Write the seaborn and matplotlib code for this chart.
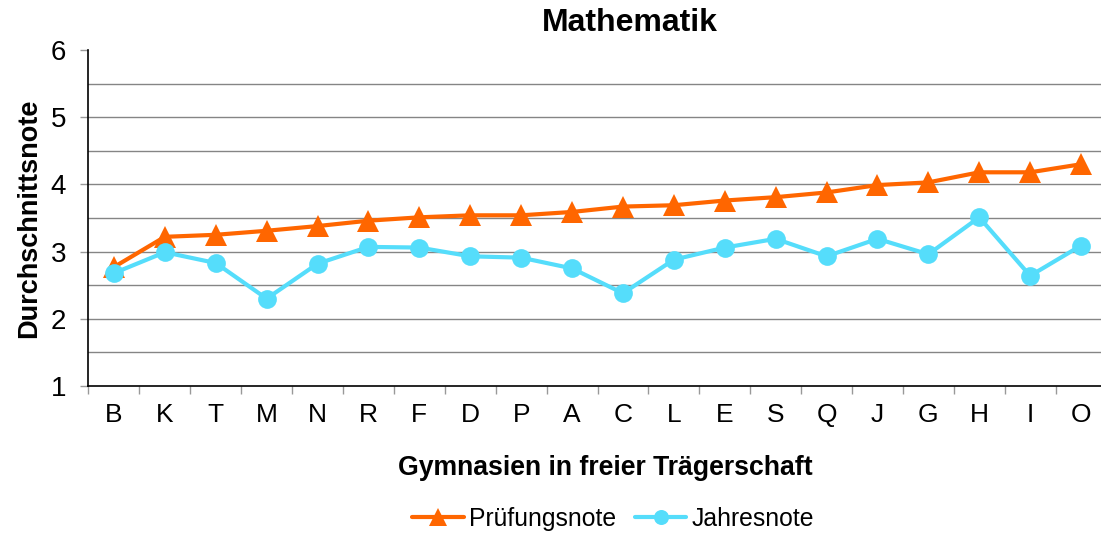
import pandas as pd
import matplotlib.pyplot as plt
import seaborn as sns

# Daten
schulen = ['B', 'K', 'T', 'M', 'N', 'R', 'F', 'D', 'P', 'A',
           'C', 'L', 'E', 'S', 'Q', 'J', 'G', 'H', 'I', 'O']
pruefungsnote = [2.77, 3.22, 3.25, 3.31, 3.38, 3.46, 3.51, 3.54, 3.54, 3.59,
                 3.67, 3.69, 3.76, 3.81, 3.88, 3.99, 4.03, 4.18, 4.18, 4.30]
jahresnote = [2.68, 2.99, 2.83, 2.30, 2.82, 3.07, 3.06, 2.93, 2.91, 2.75,
              2.38, 2.88, 3.06, 3.19, 2.93, 3.19, 2.96, 3.51, 2.64, 3.09]
serien = ['Prüfungsnote', 'Jahresnote']
y_ticks = [1, 2, 3, 4, 5, 6]
y_minor = [1.5, 2.5, 3.5, 4.5, 5.5]

df = pd.DataFrame({
    'Schule': schulen,
    'Prüfungsnote': pruefungsnote,
    'Jahresnote': jahresnote,
})

farben = {'Prüfungsnote': '#FF6600', 'Jahresnote': '#55DDFB'}
marker = {'Prüfungsnote': '^', 'Jahresnote': 'o'}
msize = {'Prüfungsnote': 15.5, 'Jahresnote': 13.5}

sns.set_theme(style="white")
plt.rcParams['font.family'] = ['Liberation Sans', 'DejaVu Sans']
plt.rcParams.update({'text.color': 'black', 'axes.labelcolor': 'black'})

fig = plt.figure(figsize=(11.01, 5.36), dpi=100)
ax = fig.add_axes([88.5 / 1101, 1 - 386 / 536, 1018 / 1101, 336 / 536])

for serie in serien:
    sns.lineplot(data=df, x='Schule', y=serie, color=farben[serie],
                 marker=marker[serie], markersize=msize[serie],
                 markeredgewidth=0, linewidth=3, sort=False, ax=ax)

# Achsen
ax.set_ylim(1, 6)
ax.set_xlim(-0.5, len(schulen) - 0.5)
ax.set_yticks(y_ticks)
ax.set_yticks(y_minor, minor=True)
ax.set_xticks(range(len(schulen)))
ax.set_xticks([i - 0.5 for i in range(len(schulen) + 1)], minor=True)
ax.set_xticklabels(schulen)

ax.grid(False)
ax.yaxis.grid(True, which='both', color='#858585', linewidth=1)
ax.set_axisbelow(True)
ax.yaxis.get_major_ticks()[-1].gridline.set_visible(False)
ax.yaxis.get_major_ticks()[0].gridline.set_visible(False)

ax.tick_params(axis='y', which='major', length=6, width=1, color='#999999',
               labelsize=20, labelcolor='black', pad=10, left=True)
ax.tick_params(axis='y', which='minor', length=0)
ax.tick_params(axis='x', which='major', length=0, labelsize=19,
               labelcolor='black', pad=12)
ax.tick_params(axis='x', which='minor', length=6, width=1, color='#999999',
               bottom=True)

for s in ['top', 'right']:
    ax.spines[s].set_visible(False)
for s in ['left', 'bottom']:
    ax.spines[s].set_color('black')
    ax.spines[s].set_linewidth(1.2)

ax.set_xlabel('Gymnasien in freier Trägerschaft', fontsize=19.2, fontweight='bold')
ax.set_ylabel('Durchschnittsnote', fontsize=19.5, fontweight='bold')
ax.xaxis.set_label_coords(0.508, -0.205)
ax.yaxis.set_label_coords(-0.046, 0.5)

fig.text(630 / 1101, 1 - 23 / 536, 'Mathematik', fontsize=23,
         fontweight='bold', ha='center', va='center')

# Legende
fig.legend(ax.lines[:2], serien, loc='center', ncol=2, frameon=False,
           bbox_to_anchor=(613 / 1101, 1 - 519 / 536), fontsize=17.8,
           handlelength=2.1, handletextpad=0.2, columnspacing=0.75,
           markerscale=0.8)

fig.savefig('out.png', dpi=100)
